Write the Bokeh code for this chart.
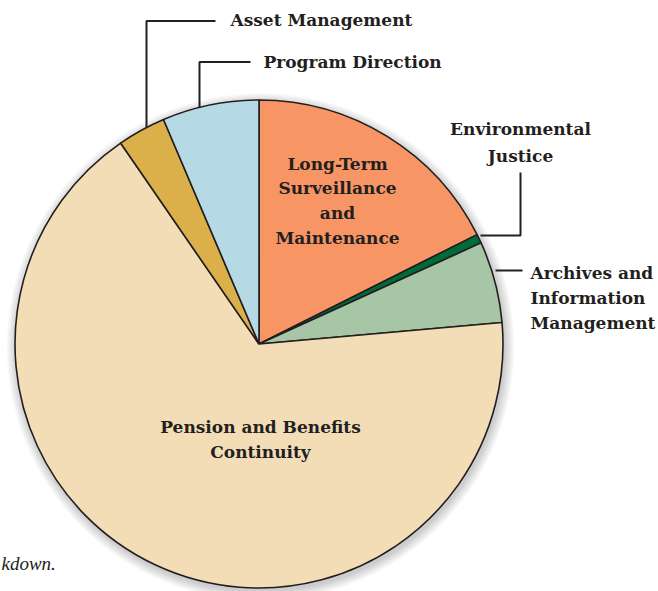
import math
from bokeh.plotting import figure
from bokeh.models import Range1d, ColumnDataSource
from bokeh.core.properties import value
from bokeh.embed import file_html
from bokeh.resources import INLINE

# ---- data (clockwise from 12 o'clock), percent of budget ----
categories = ["Long-Term Surveillance and Maintenance", "Environmental Justice",
              "Archives and Information Management", "Pension and Benefits Continuity",
              "Asset Management", "Program Direction"]
shares = [17.6, 0.6, 5.4, 66.8, 3.2, 6.4]
colors = ["#F79664", "#006B3A", "#A6C6A6", "#F3DDB7", "#DBB04B", "#B5DAE5"]

W, H = 658, 591
def Y(sy):
    return H - sy

p = figure(width=W, height=H, output_backend="svg", toolbar_location=None,
           x_range=Range1d(0, W), y_range=Range1d(0, H),
           min_border=0)
p.axis.visible = False
p.grid.visible = False
p.outline_line_color = None
p.background_fill_color = "white"

cx, cy, r = 258.5, Y(343.5), 244

# soft shadow
for i in range(10):
    p.circle(x=cx + 1.5, y=cy - 3, radius=r + 10 - i, fill_color="#000000",
             fill_alpha=0.018, line_color=None)

total = sum(shares)
starts, ends = [], []
cum = 0.0
for s in shares:
    a0 = 90 - (cum + s) / total * 360
    a1 = 90 - cum / total * 360
    starts.append(math.radians(a0))
    ends.append(math.radians(a1))
    cum += s

src = ColumnDataSource(dict(start=starts, end=ends, color=colors, cat=categories))
p.wedge(x=cx, y=cy, radius=r, start_angle="start", end_angle="end",
        direction="anticlock", fill_color="color", line_color="#231F20",
        line_width=1.6, source=src)

# leader lines
lc = "#231F20"
p.line([215, 146, 146], [Y(20.5), Y(20.5), Y(127)], line_color=lc, line_width=2)
p.line([250, 199, 199], [Y(61.5), Y(61.5), Y(107)], line_color=lc, line_width=2)
p.line([520, 520, 480], [Y(172), Y(235), Y(235)], line_color=lc, line_width=2)
p.line([495, 522], [Y(270), Y(270)], line_color=lc, line_width=2)

font = value("DejaVu Serif")
fs = "17px"
tc = "#231F20"

def label(x, sy, lines, align="center", step=25):
    p.text(x=[x] * len(lines), y=[Y(sy + i * step) for i in range(len(lines))],
           text=lines, text_font=font, text_font_size=fs, text_font_style="bold",
           text_color=tc, text_align=align, text_baseline="middle")

label(230, 19, ["Asset Management"], align="left")
label(263, 61, ["Program Direction"], align="left")
label(520, 128, ["Environmental", "Justice"], step=27)
label(530, 272, ["Archives and", "Information", "Management"], align="left")
label(337, 163, ["Long-Term", "Surveillance", "and", "Maintenance"], step=24.7)
label(260, 426, ["Pension and Benefits", "Continuity"], step=25.7)

p.text(x=[1], y=[Y(563)], text=["kdown."], text_font=value("Liberation Serif"),
       text_font_size="19px", text_font_style="italic", text_color=tc,
       text_align="left", text_baseline="middle")

open("out.html", "w").write(file_html(p, INLINE))
